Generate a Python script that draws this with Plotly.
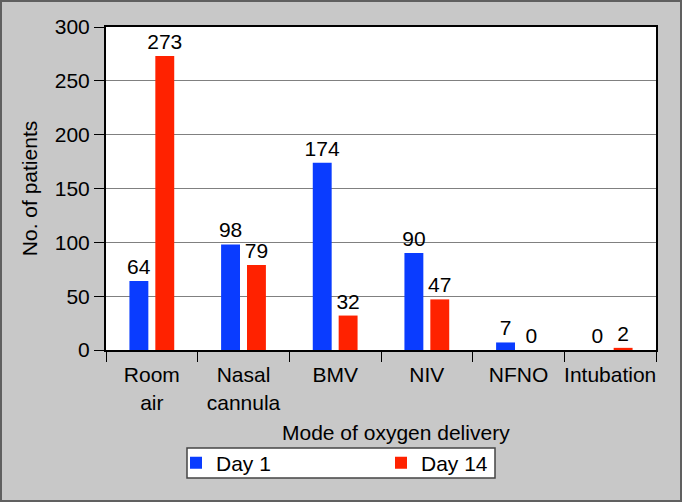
import plotly.graph_objects as go

categories = ["Room<br>air", "Nasal<br>cannula", "BMV", "NIV", "NFNO", "Intubation"]
day1 = [64, 98, 174, 90, 7, 0]
day14 = [273, 79, 32, 47, 0, 2]
y_ticks = [0, 50, 100, 150, 200, 250, 300]

FONT = "Liberation Sans, Arial, sans-serif"
FS = 21
BLUE = "#0a3cff"
RED = "#ff2200"

fig = go.Figure()
fig.add_trace(go.Bar(name="Day 1", x=categories, y=day1, marker_color=BLUE,
                     marker_line_width=0, text=day1, textposition="outside",
                     constraintext="none",
                     textfont=dict(size=FS, color="black"), cliponaxis=False))
fig.add_trace(go.Bar(name="Day 14", x=categories, y=day14, marker_color=RED,
                     marker_line_width=0, text=day14, textposition="outside",
                     constraintext="none",
                     textfont=dict(size=FS, color="black"), cliponaxis=False))

L, R, T, B = 106, 26, 27, 152
W, H = 682, 502
pw, ph = W - L - R, H - T - B

def px_x(x):
    return (x - L) / pw

def px_y(y):
    return (H - B - y) / ph

fig.update_layout(
    width=W, height=H,
    margin=dict(l=L, r=R, t=T, b=B, autoexpand=False),
    paper_bgcolor="#c8c8c8",
    plot_bgcolor="white",
    font=dict(family=FONT, size=FS, color="black"),
    barmode="group", bargap=0.435, bargroupgap=0.27,
    showlegend=True,
    legend=dict(orientation="h", x=px_x(176), y=px_y(463),
                xanchor="left", yanchor="middle", bgcolor="rgba(0,0,0,0)",
                borderwidth=0, entrywidth=160, entrywidthmode="pixels",
                font=dict(size=FS), itemwidth=30),
)
fig.update_xaxes(showline=True, linecolor="black", linewidth=2, mirror=True,
                 ticks="outside", tickson="boundaries", ticklen=10, tickcolor="black",
                 tickwidth=1, tickfont=dict(size=FS), showgrid=False, tickangle=0,
                 ticklabelstandoff=5, automargin=False)
fig.update_yaxes(range=[0, 300], tickvals=y_ticks, showline=True, linecolor="black",
                 linewidth=2, mirror=True, ticks="outside", ticklen=10, tickcolor="black",
                 tickwidth=1, gridcolor="#808080", gridwidth=1, tickfont=dict(size=FS),
                 zeroline=False, automargin=False,
                 title=dict(text="No. of patients", font=dict(size=FS), standoff=11))
fig.add_annotation(text="Mode of oxygen delivery", xref="paper", yref="paper",
                   x=px_x(396), y=px_y(432), showarrow=False,
                   xanchor="center", yanchor="middle", font=dict(size=FS))
# legend box
fig.add_shape(type="rect", xref="paper", yref="paper",
              x0=px_x(187), x1=px_x(495), y0=px_y(478), y1=px_y(448),
              fillcolor="white", line=dict(color="#444444", width=1.5), layer="below")
# outer frame
fig.add_shape(type="rect", xref="paper", yref="paper",
              x0=px_x(1), x1=px_x(681), y0=px_y(501), y1=px_y(1),
              line=dict(color="#606060", width=2), layer="below")
fig.write_html("out.html", config={"displayModeBar": False},
               post_script="document.body.style.margin='0';")
